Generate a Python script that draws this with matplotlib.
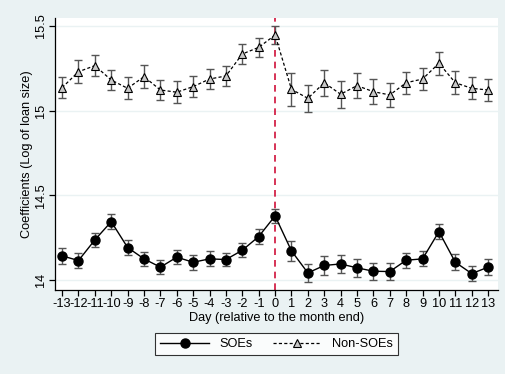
import numpy as np
import matplotlib
matplotlib.use("Agg")
import matplotlib.pyplot as plt
from matplotlib.lines import Line2D

plt.rcParams['font.family'] = ['Liberation Sans', 'DejaVu Sans']

# ========== DATA ==========
days = list(range(-13, 14))

soe_coef = [14.142, 14.114, 14.236, 14.344, 14.191, 14.124, 14.075, 14.134, 14.104,
            14.124, 14.120, 14.175, 14.256, 14.378, 14.171, 14.041, 14.085, 14.094,
            14.071, 14.051, 14.049, 14.116, 14.124, 14.285, 14.104, 14.037, 14.075]
soe_ci = [0.046, 0.046, 0.043, 0.045, 0.045, 0.042, 0.042, 0.041, 0.045,
          0.045, 0.041, 0.041, 0.043, 0.043, 0.059, 0.053, 0.054, 0.053,
          0.055, 0.049, 0.051, 0.044, 0.044, 0.044, 0.048, 0.046, 0.046]

nonsoe_coef = [15.136, 15.230, 15.266, 15.181, 15.132, 15.201, 15.122, 15.109, 15.142,
               15.187, 15.205, 15.335, 15.374, 15.447, 15.126, 15.073, 15.165, 15.097,
               15.148, 15.112, 15.093, 15.165, 15.187, 15.280, 15.165, 15.132, 15.122]
nonsoe_ci = [0.064, 0.069, 0.061, 0.061, 0.066, 0.066, 0.060, 0.066, 0.062,
             0.060, 0.057, 0.060, 0.056, 0.052, 0.098, 0.079, 0.076, 0.079,
             0.072, 0.075, 0.069, 0.066, 0.063, 0.067, 0.068, 0.066, 0.066]

y_ticks = [14, 14.5, 15, 15.5]
y_ticklabels = ["14", "14.5", "15", "15.5"]

# ========== STYLE ==========
BG = '#EAF2F3'
GRID = '#EAF2F3'
ERR = '#555555'
RED = '#D0103A'
FS = 9.2

fig = plt.figure(figsize=(5.05, 3.74), dpi=100, facecolor=BG)
ax = fig.add_axes([0.109, 0.2246, 0.877, 0.727])
ax.set_facecolor('white')

# gridlines
for t in y_ticks:
    ax.axhline(t, color=GRID, lw=1.0, zorder=0)

# red reference line at month end
ax.axvline(0, color=RED, ls=(0, (4, 3)), lw=1.2, zorder=1)

# confidence intervals
ax.errorbar(days, soe_coef, yerr=soe_ci, fmt='none', ecolor=ERR, elinewidth=1.0,
            capsize=3, capthick=1.0, zorder=2)
ax.errorbar(days, nonsoe_coef, yerr=nonsoe_ci, fmt='none', ecolor=ERR, elinewidth=1.0,
            capsize=3, capthick=1.0, zorder=2)

# point estimates
ax.plot(days, soe_coef, color='black', lw=1.0, marker='o', ms=6.5,
        mfc='black', mec='black', zorder=3)
ax.plot(days, nonsoe_coef, color='black', lw=0.9, ls=(0, (2.5, 1.8)), marker='^', ms=6,
        mfc='#c8c8c8', mec='black', mew=0.8, zorder=3)

ax.set_xlim(-13.43, 13.6)
ax.set_ylim(13.94, 15.547)

ax.set_xticks(days)
ax.set_xticklabels([str(d) for d in days], fontsize=FS)
ax.set_yticks(y_ticks)
ax.set_yticklabels(y_ticklabels, fontsize=FS, rotation=90, va='center')

for side in ['top', 'right']:
    ax.spines[side].set_visible(False)
ax.spines['left'].set_linewidth(0.9)
ax.spines['bottom'].set_linewidth(0.9)
ax.tick_params(axis='both', direction='out', length=4, width=0.9, pad=2)

ax.set_xlabel("Day (relative to the month end)", fontsize=FS, labelpad=1)
ax.set_ylabel("Coefficients (Log of loan size)", fontsize=FS, labelpad=1)

# ========== LEGEND ==========
handles = [
    Line2D([0], [0], color='black', lw=1.0, marker='o', ms=6.5, mfc='black'),
    Line2D([0], [0], color='black', lw=0.9, ls=(0, (2.5, 1.8)), marker='^', ms=6,
           mfc='#c8c8c8', mec='black', mew=0.8),
]
leg = fig.legend(handles, ["SOEs", "Non-SOEs"], loc='center', ncol=2,
                 bbox_to_anchor=(0.5475, 0.080), fontsize=FS, frameon=True,
                 fancybox=False, edgecolor='black', handlelength=3.8,
                 columnspacing=1.6, borderpad=0.4)
leg.get_frame().set_linewidth(0.8)

fig.savefig("out.png", dpi=100, facecolor=BG)
